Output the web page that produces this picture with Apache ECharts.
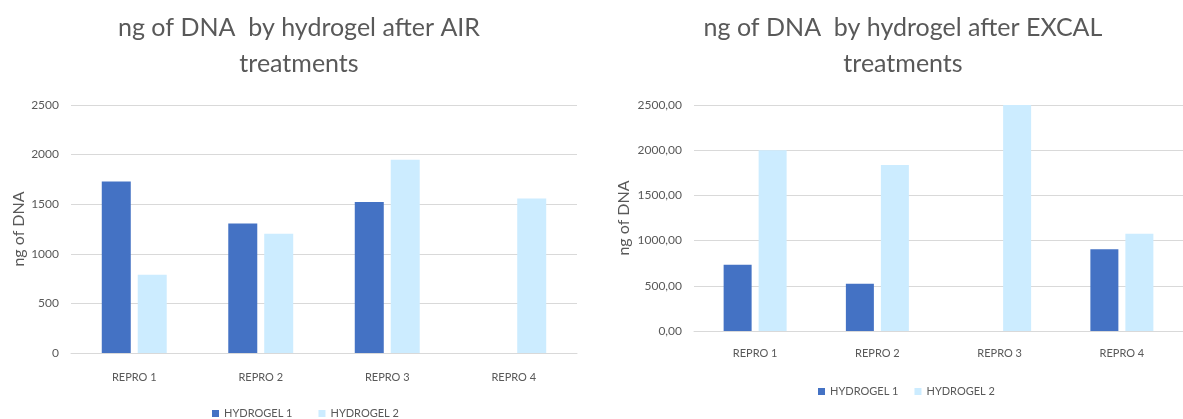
<!DOCTYPE html>
<html><head><meta charset="utf-8">
<script src="https://cdn.jsdelivr.net/npm/echarts@6/dist/echarts.min.js"></script>
<style>html,body{margin:0;padding:0;background:#fff}#c{width:1183px;height:419px}</style>
</head><body><div id="c"></div>
<script>
const categories = ['REPRO 1', 'REPRO 2', 'REPRO 3', 'REPRO 4'];
const seriesNames = ['HYDROGEL 1', 'HYDROGEL 2'];
const airHydrogel1 = [1730, 1306, 1521, null];
const airHydrogel2 = [790, 1201, 1948, 1558];
const excalHydrogel1 = [733, 523, null, 904];
const excalHydrogel2 = [1999, 1836, 2500, 1077];
const yMin = 0, yMax = 2500, yStep = 500;
const titles = ['ng of DNA  by hydrogel after AIR\ntreatments', 'ng of DNA  by hydrogel after EXCAL\ntreatments'];
const yName = 'ng of DNA';

const FONT = 'Lato';
const GREY = '#595959';
const DARK = '#4472C4';
const LIGHT = '#CCECFF';

function yAxis(gi, fmt, gap) {
  return {
    type: 'value', gridIndex: gi, min: yMin, max: yMax, interval: yStep,
    name: yName, nameLocation: 'middle', nameRotate: 90, nameGap: gap,
    nameTextStyle: { color: GREY, fontSize: 16, fontFamily: FONT },
    axisLine: { show: false }, axisTick: { show: false },
    axisLabel: { color: GREY, fontSize: 12, fontFamily: FONT, margin: 12, formatter: fmt },
    splitLine: { lineStyle: { color: '#d9d9d9', width: 1 } }
  };
}
function xAxis(gi, margin) {
  return {
    type: 'category', gridIndex: gi, data: categories,
    axisLine: { lineStyle: { color: '#d9d9d9', width: 1 } }, axisTick: { show: false },
    axisLabel: { color: GREY, fontSize: 11, fontFamily: FONT, margin: margin }
  };
}
function bar(name, data, gi, color, w, gap) {
  return { type: 'bar', name: name, data: data, xAxisIndex: gi, yAxisIndex: gi,
    barWidth: w, barGap: gap, itemStyle: { color: color }, silent: true };
}

const chart = echarts.init(document.getElementById('c'), null, { renderer: 'canvas' });
chart.setOption({
  animation: false,
  title: [
    { text: titles[0], left: 294, top: 5, textAlign: 'center',
      textStyle: { color: GREY, fontSize: 25, fontWeight: 'normal', fontFamily: FONT, lineHeight: 36 } },
    { text: titles[1], left: 898, top: 5, textAlign: 'center',
      textStyle: { color: GREY, fontSize: 25, fontWeight: 'normal', fontFamily: FONT, lineHeight: 36 } }
  ],
  legend: [
    { data: seriesNames, left: 207, top: 403, itemWidth: 7, itemHeight: 7, itemGap: 26, icon: 'rect',
      textStyle: { color: GREY, fontSize: 11, fontFamily: FONT } },
    { data: seriesNames, left: 813, top: 381, itemWidth: 7, itemHeight: 7, itemGap: 16, icon: 'rect',
      textStyle: { color: GREY, fontSize: 11, fontFamily: FONT } }
  ],
  grid: [
    { left: 71, right: 606, top: 105, height: 248 },
    { left: 694, right: -1, top: 105, height: 226 }
  ],
  xAxis: [xAxis(0, 19), xAxis(1, 17)],
  yAxis: [
    yAxis(0, v => String(v), 44),
    yAxis(1, v => v.toFixed(2).replace('.', ','), 62)
  ],
  series: [
    bar(seriesNames[0], airHydrogel1, 0, DARK, 29, '24%'),
    bar(seriesNames[1], airHydrogel2, 0, LIGHT, 29, '24%'),
    bar(seriesNames[0], excalHydrogel1, 1, DARK, 28, '25%'),
    bar(seriesNames[1], excalHydrogel2, 1, LIGHT, 28, '25%')
  ]
});
</script></body></html>
